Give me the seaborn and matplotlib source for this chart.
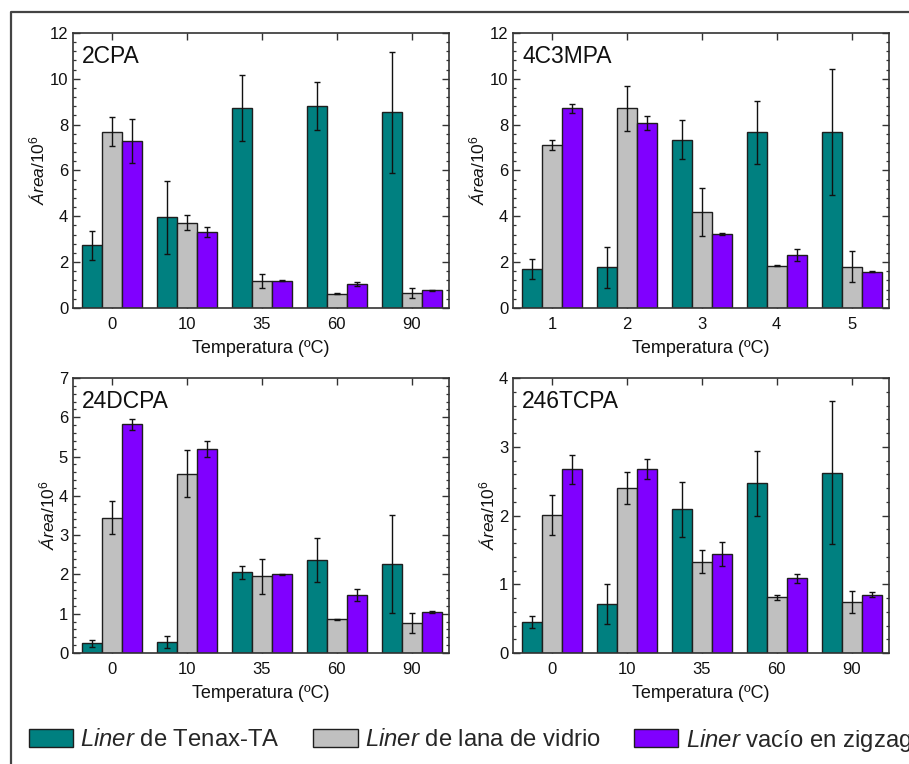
import numpy as np
import pandas as pd
import matplotlib
matplotlib.use('Agg')
import matplotlib.pyplot as plt
import seaborn as sns
from matplotlib.ticker import MultipleLocator, AutoMinorLocator
from matplotlib.lines import Line2D
from matplotlib.patches import Patch

# ---------------- data ----------------
temps = ['0', '10', '35', '60', '90']
levels_4c3mpa = ['1', '2', '3', '4', '5']
liners = ['tenax', 'lana', 'zigzag']
liner_labels = ['$\\mathit{Liner}$ de Tenax-TA',
                '$\\mathit{Liner}$ de lana de vidrio',
                '$\\mathit{Liner}$ vacío en zigzag']
colors = ['#008080', '#C0C0C0', '#8000FF']

cpa2_tenax = [2.73, 3.95, 8.72, 8.80, 8.55]
cpa2_tenax_err = [0.65, 1.59, 1.43, 1.05, 2.64]
cpa2_lana = [7.70, 3.73, 1.19, 0.63, 0.67]
cpa2_lana_err = [0.63, 0.33, 0.30, 0.02, 0.22]
cpa2_zig = [7.28, 3.31, 1.19, 1.06, 0.77]
cpa2_zig_err = [0.97, 0.22, 0.03, 0.09, 0.03]

mpa_tenax = [1.70, 1.78, 7.35, 7.67, 7.69]
mpa_tenax_err = [0.45, 0.90, 0.85, 1.37, 2.76]
mpa_lana = [7.11, 8.71, 4.18, 1.85, 1.81]
mpa_lana_err = [0.20, 0.99, 1.04, 0.02, 0.66]
mpa_zig = [8.71, 8.07, 3.23, 2.32, 1.59]
mpa_zig_err = [0.18, 0.30, 0.04, 0.25, 0.02]

dcpa_tenax = [0.25, 0.28, 2.05, 2.37, 2.27]
dcpa_tenax_err = [0.085, 0.16, 0.17, 0.57, 1.24]
dcpa_lana = [3.44, 4.56, 1.95, 0.86, 0.76]
dcpa_lana_err = [0.42, 0.60, 0.44, 0.01, 0.26]
dcpa_zig = [5.82, 5.19, 2.00, 1.48, 1.05]
dcpa_zig_err = [0.14, 0.21, 0.02, 0.16, 0.03]

tcpa_tenax = [0.45, 0.71, 2.09, 2.47, 2.62]
tcpa_tenax_err = [0.09, 0.29, 0.40, 0.47, 1.04]
tcpa_lana = [2.01, 2.40, 1.33, 0.81, 0.74]
tcpa_lana_err = [0.29, 0.23, 0.17, 0.035, 0.165]
tcpa_zig = [2.67, 2.67, 1.44, 1.09, 0.85]
tcpa_zig_err = [0.21, 0.145, 0.17, 0.065, 0.035]

panels = [
    ('2CPA', temps, [cpa2_tenax, cpa2_lana, cpa2_zig],
     [cpa2_tenax_err, cpa2_lana_err, cpa2_zig_err], 12, 2),
    ('4C3MPA', levels_4c3mpa, [mpa_tenax, mpa_lana, mpa_zig],
     [mpa_tenax_err, mpa_lana_err, mpa_zig_err], 12, 2),
    ('24DCPA', temps, [dcpa_tenax, dcpa_lana, dcpa_zig],
     [dcpa_tenax_err, dcpa_lana_err, dcpa_zig_err], 7, 1),
    ('246TCPA', temps, [tcpa_tenax, tcpa_lana, tcpa_zig],
     [tcpa_tenax_err, tcpa_lana_err, tcpa_zig_err], 4, 1),
]

# ---------------- style ----------------
sns.set_theme(style='ticks')
plt.rcParams['font.family'] = ['Liberation Sans', 'DejaVu Sans']
plt.rcParams['mathtext.fontset'] = 'custom'
plt.rcParams['mathtext.rm'] = 'Liberation Sans'
plt.rcParams['mathtext.it'] = 'Liberation Sans:italic'
plt.rcParams['mathtext.bf'] = 'Liberation Sans:bold'

W, H = 909, 764
fig = plt.figure(figsize=(W / 100, H / 100), dpi=100)
fig.patch.set_facecolor('white')

rects = [(73, 33), (513, 33), (73, 378), (513, 378)]
aw, ah = 376, 275
palette = dict(zip(liners, colors))
spine_col = '#333333'

for (name, cats, vals, errs, ymax, ystep), (lx, ty) in zip(panels, rects):
    ax = fig.add_axes([lx / W, 1 - (ty + ah) / H, aw / W, ah / H])
    rows = []
    for lv, series in zip(liners, vals):
        for c, v in zip(cats, series):
            rows.append({'cat': c, 'liner': lv, 'value': v})
    df = pd.DataFrame(rows)
    sns.barplot(data=df, x='cat', y='value', hue='liner', order=cats,
                hue_order=liners, palette=palette, width=0.8,
                errorbar=None, edgecolor='#1e1e1e', linewidth=1.0,
                legend=False, ax=ax, saturation=1)
    for cont, e in zip(ax.containers, errs):
        xs = [p.get_x() + p.get_width() / 2 for p in cont.patches]
        hs = [p.get_height() for p in cont.patches]
        ax.errorbar(xs, hs, yerr=e, fmt='none', ecolor='#111111',
                    elinewidth=1.0, capsize=2.5, capthick=1.0, zorder=5)
    ax.set_xlim(-0.52, 4.5)
    ax.set_ylim(0, ymax)
    ax.yaxis.set_major_locator(MultipleLocator(ystep))
    ax.yaxis.set_minor_locator(AutoMinorLocator(5))
    ax.tick_params(axis='both', which='major', direction='in', length=5,
                   width=1.0, color=spine_col, top=True, right=True,
                   labelsize=12, labelcolor='#111111')
    ax.tick_params(axis='x', pad=6.5)
    ax.tick_params(axis='y', pad=3.5)
    ax.tick_params(axis='y', which='minor', direction='in', length=2.5,
                   width=0.9, color=spine_col, left=True, right=True)
    for s in ax.spines.values():
        s.set_color(spine_col)
        s.set_linewidth(1.2)
        s.set_visible(True)
    ax.set_xlabel('Temperatura (ºC)', fontsize=13, labelpad=5.5,
                  color='#111111')
    ax.set_ylabel('$\\mathit{Área}$/10$^{\\mathrm{6}}$', fontsize=12.5,
                  labelpad=1, color='#111111')
    ax.text(0.024, 0.891, name, transform=ax.transAxes, fontsize=16.5,
            ha='left', va='baseline', color='#111111')

# legend
handles = [Patch(facecolor=c, edgecolor='#1e1e1e', linewidth=1.0)
           for c in colors]
fig.legend(handles, liner_labels, loc='center left',
           bbox_to_anchor=(29 / W, 1 - 740 / H), ncol=3, frameon=False,
           fontsize=17.2, handlelength=1.85, handleheight=0.78,
           handletextpad=0.3, columnspacing=1.4, borderpad=0,
           borderaxespad=0)

# figure frame (open at right and bottom)
x0 = 11 / W
y1 = 1 - 12 / H
fig.add_artist(Line2D([x0, x0, 1.02], [-0.02, y1, y1],
                      transform=fig.transFigure, color='#444444',
                      linewidth=1.6))

fig.savefig('out.png', dpi=100)
